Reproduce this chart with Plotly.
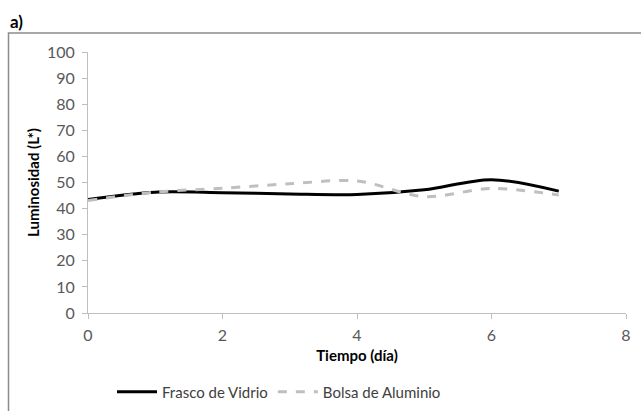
import plotly.graph_objects as go

dias = [0, 1, 2, 3, 4, 5, 6, 7]
frasco_vidrio = [43.5, 46.3, 46.1, 45.6, 45.4, 47.2, 51.1, 46.7]
bolsa_aluminio = [43.1, 46.3, 47.8, 49.5, 50.6, 44.6, 47.7, 45.2]
x_ticks = [0, 2, 4, 6, 8]
y_ticks = [0, 10, 20, 30, 40, 50, 60, 70, 80, 90, 100]

FONT = "Lato, 'Open Sans', sans-serif"

fig = go.Figure()
fig.add_trace(go.Scatter(
    x=dias, y=frasco_vidrio, mode="lines", name="Frasco de Vidrio",
    line=dict(color="#000000", width=3, shape="spline", smoothing=0.9),
))
fig.add_trace(go.Scatter(
    x=dias, y=bolsa_aluminio, mode="lines", name="Bolsa de Aluminio",
    line=dict(color="#bfbfbf", width=3, shape="spline", smoothing=0.9, dash="dash"),
))

L, R, T, B = 88, 15, 52, 98
W, H = 641, 411
pw = W - L - R
ph = H - T - B

def px2x(px):
    return (px - L) / pw

def py2y(py):
    return (H - B - py) / ph

fig.add_shape(type="rect", xref="paper", yref="paper",
              x0=px2x(8.5), x1=px2x(660), y0=py2y(33), y1=py2y(430),
              line=dict(color="#8c8c8c", width=1.5), fillcolor="rgba(0,0,0,0)")

fig.add_annotation(text="<b>a)</b>", xref="paper", yref="paper",
                   x=px2x(8), y=py2y(34), xanchor="left", yanchor="bottom",
                   showarrow=False, font=dict(family=FONT, size=17, color="#000"))

fig.update_layout(
    width=W, height=H,
    margin=dict(l=L, r=R, t=T, b=B, autoexpand=False),
    paper_bgcolor="white", plot_bgcolor="white",
    font=dict(family=FONT, size=16, color="#595959"),
    showlegend=True,
    legend=dict(orientation="h", x=px2x(112), xanchor="left", y=py2y(392), yanchor="middle",
                font=dict(family=FONT, size=15, color="#404040"),
                itemwidth=40, tracegroupgap=0),
    xaxis=dict(range=[0, 8], tickvals=x_ticks, showgrid=False, zeroline=False,
               showline=True, linecolor="#bfbfbf", linewidth=1,
               ticks="outside", ticklen=5, tickcolor="#bfbfbf",
               ticklabelstandoff=3,
               tickfont=dict(family=FONT, size=16, color="#595959"),
               title=dict(text="<b>Tiempo (día)</b>", standoff=7,
                          font=dict(family=FONT, size=15, color="#000"))),
    yaxis=dict(range=[0, 100], tickvals=y_ticks, showgrid=False, zeroline=False,
               showline=True, linecolor="#bfbfbf", linewidth=1,
               ticks="outside", ticklen=5, tickcolor="#bfbfbf",
               ticklabelstandoff=4,
               tickfont=dict(family=FONT, size=16, color="#595959"),
               title=dict(text="<b>Luminosidad (L*)</b>", standoff=3,
                          font=dict(family=FONT, size=15, color="#000"))),
)

fig.write_html("out.html")
